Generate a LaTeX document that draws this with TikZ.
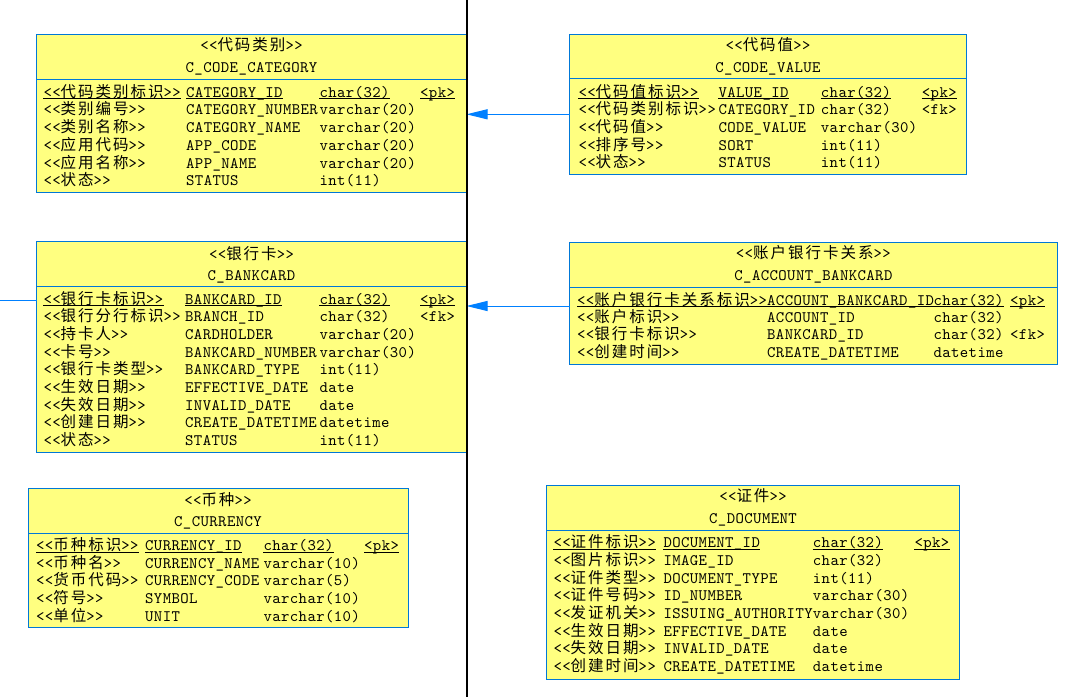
\documentclass[tikz,border=0pt]{standalone}
\usepackage{fontspec}
\usetikzlibrary{arrows.meta}
\newfontfamily\cjk[LetterSpace=12.9]{Noto Sans CJK SC}
\newfontfamily\mono[LetterSpace=2.5]{lmmono10-regular.otf}
\definecolor{erfill}{RGB}{255,255,128}
\definecolor{erline}{RGB}{0,120,215}
\definecolor{connc}{RGB}{0,128,255}
\newcommand\zh[1]{{\cjk\fontsize{15.5}{15.5}\selectfont #1}}
\newcommand\lab[1]{<<\zh{#1}>>}
\newcount\rc
\newcommand\cols[4]{\def\ca{#1}\def\cb{#2}\def\cc{#3}\def\cd{#4}}
\newcommand\rw[5]{%
  \global\advance\rc by 1
  \node[txt] (r\the\rc a) at (\ca,#1+5) {\lab{#2}};
  \node[txt] (r\the\rc b) at (\cb,#1+5) {#3};
  \node[txt] (r\the\rc c) at (\cc,#1+5) {#4};
  \node[txt] (r\the\rc d) at (\cd,#1+5) {#5};
}
\newcommand\rwu[5]{%
  \rw{#1}{#2}{#3}{#4}{#5}%
  \edef\nm{r\the\rc}%
  \foreach \k in {a,b,c,d}{\draw[ul] ([yshift=-1.8pt]\nm\k.base west) -- ([yshift=-1.8pt]\nm\k.base east);}
}
\begin{document}
\begin{tikzpicture}[x=1pt,y=-1pt,
  tbl/.style={draw=erline, fill=erfill, line width=1pt, inner sep=0pt, outer sep=0pt, anchor=north west},
  txt/.style={anchor=base west, inner sep=0pt, font=\mono\fontsize{16}{16}\selectfont},
  ttl/.style={anchor=base, inner sep=0pt, font=\mono\fontsize{16}{16}\selectfont},
  sepl/.style={draw=erline, line width=1pt},
  conn/.style={draw=connc, line width=1pt, -{Triangle[length=21pt,width=10pt]}},
  connl/.style={draw=connc, line width=1pt},
  ul/.style={draw=black, line width=0.8pt}]
\useasboundingbox (0,0) rectangle (1087,697);
\fill[white] (0,0) rectangle (1087,697);

% tables
\node[tbl, minimum width=430pt, minimum height=157.5pt] (t1) at (36.5,34.5) {};
\node[tbl, minimum width=397pt, minimum height=139.5pt] (t2) at (569.5,34.5) {};
\node[tbl, minimum width=430pt, minimum height=210.3pt] (t3) at (36.5,241.7) {};
\node[tbl, minimum width=487.8pt, minimum height=121.7pt] (t4) at (569.5,242.3) {};
\node[tbl, minimum width=380pt, minimum height=139.4pt] (t5) at (28,488.3) {};
\node[tbl, minimum width=412.6pt, minimum height=193.7pt] (t6) at (546.7,485.3) {};

\draw[sepl] (t1.west |- 0,79.3) -- (t1.east |- 0,79.3);
\draw[sepl] (t2.west |- 0,78.7) -- (t2.east |- 0,78.7);
\draw[sepl] (t3.west |- 0,286.7) -- (t3.east |- 0,286.7);
\draw[sepl] (t4.west |- 0,287.3) -- (t4.east |- 0,287.3);
\draw[sepl] (t5.west |- 0,533.3) -- (t5.east |- 0,533.3);
\draw[sepl] (t6.west |- 0,530.7) -- (t6.east |- 0,530.7);

% titles
\node[ttl] (h1a) at (t1.north |- 0,50.5) {\lab{代码类别}};
\node[ttl] (h1b) at (t1.north |- 0,72.3) {C\_CODE\_CATEGORY};
\node[ttl] (h2a) at (t2.north |- 0,50.5) {\lab{代码值}};
\node[ttl] (h2b) at (t2.north |- 0,72) {C\_CODE\_VALUE};
\node[ttl] (h3a) at (t3.north |- 0,259.5) {\lab{银行卡}};
\node[ttl] (h3b) at (t3.north |- 0,280.7) {C\_BANKCARD};
\node[ttl] (h4a) at (t4.north |- 0,258.5) {\lab{账户银行卡关系}};
\node[ttl] (h4b) at (t4.north |- 0,280) {C\_ACCOUNT\_BANKCARD};
\node[ttl] (h5a) at (t5.north |- 0,505.5) {\lab{币种}};
\node[ttl] (h5b) at (t5.north |- 0,526.7) {C\_CURRENCY};
\node[ttl] (h6a) at (t6.north |- 0,501.5) {\lab{证件}};
\node[ttl] (h6b) at (t6.north |- 0,523.7) {C\_DOCUMENT};

% C_CODE_CATEGORY
\cols{43.3}{186}{319.3}{420}
\rwu{92}{代码类别标识}{CATEGORY\_ID}{char(32)}{<pk>}
\rw{109.7}{类别编号}{CATEGORY\_NUMBER}{varchar(20)}{}
\rw{127.5}{类别名称}{CATEGORY\_NAME}{varchar(20)}{}
\rw{145.2}{应用代码}{APP\_CODE}{varchar(20)}{}
\rw{163}{应用名称}{APP\_NAME}{varchar(20)}{}
\rw{180.7}{状态}{STATUS}{int(11)}{}

% C_CODE_VALUE
\cols{578.3}{718.3}{820.7}{921.7}
\rwu{92}{代码值标识}{VALUE\_ID}{char(32)}{<pk>}
\rw{109.5}{代码类别标识}{CATEGORY\_ID}{char(32)}{<fk>}
\rw{127.3}{代码值}{CODE\_VALUE}{varchar(30)}{}
\rw{145}{排序号}{SORT}{int(11)}{}
\rw{162.7}{状态}{STATUS}{int(11)}{}

% C_BANKCARD
\cols{43.3}{185}{319.3}{420}
\rwu{299}{银行卡标识}{BANKCARD\_ID}{char(32)}{<pk>}
\rw{316.7}{银行分行标识}{BRANCH\_ID}{char(32)}{<fk>}
\rw{334.4}{持卡人}{CARDHOLDER}{varchar(20)}{}
\rw{352.1}{卡号}{BANKCARD\_NUMBER}{varchar(30)}{}
\rw{369.8}{银行卡类型}{BANKCARD\_TYPE}{int(11)}{}
\rw{387.5}{生效日期}{EFFECTIVE\_DATE}{date}{}
\rw{405.2}{失效日期}{INVALID\_DATE}{date}{}
\rw{422.9}{创建日期}{CREATE\_DATETIME}{datetime}{}
\rw{440.6}{状态}{STATUS}{int(11)}{}

% C_ACCOUNT_BANKCARD
\cols{577}{767}{933.3}{1010}
\rwu{300}{账户银行卡关系标识}{ACCOUNT\_BANKCARD\_ID}{char(32)}{<pk>}
\rw{317}{账户标识}{ACCOUNT\_ID}{char(32)}{}
\rw{334.5}{银行卡标识}{BANKCARD\_ID}{char(32)}{<fk>}
\rw{352.3}{创建时间}{CREATE\_DATETIME}{datetime}{}

% C_CURRENCY
\cols{36}{145}{263.3}{364}
\rwu{545.7}{币种标识}{CURRENCY\_ID}{char(32)}{<pk>}
\rw{563.3}{币种名}{CURRENCY\_NAME}{varchar(10)}{}
\rw{580.8}{货币代码}{CURRENCY\_CODE}{varchar(5)}{}
\rw{598.4}{符号}{SYMBOL}{varchar(10)}{}
\rw{616}{单位}{UNIT}{varchar(10)}{}

% C_DOCUMENT
\cols{553.3}{663.3}{812.7}{914.3}
\rwu{542.7}{证件标识}{DOCUMENT\_ID}{char(32)}{<pk>}
\rw{560.4}{图片标识}{IMAGE\_ID}{char(32)}{}
\rw{578.1}{证件类型}{DOCUMENT\_TYPE}{int(11)}{}
\rw{595.8}{证件号码}{ID\_NUMBER}{varchar(30)}{}
\rw{613.5}{发证机关}{ISSUING\_AUTHORITY}{varchar(30)}{}
\rw{631.2}{生效日期}{EFFECTIVE\_DATE}{date}{}
\rw{648.9}{失效日期}{INVALID\_DATE}{date}{}
\rw{666.6}{创建时间}{CREATE\_DATETIME}{datetime}{}

% connectors
\draw[conn] (t2.west |- 0,114.3) -- (t1.east |- 0,114.3);
\draw[conn] (t4.west |- 0,306) -- (t3.east |- 0,306);
\coordinate (lft) at (0,300.3);
\draw[connl] (lft) -- (t3.west |- lft);
\coordinate (vt) at (467,0);
\coordinate (vb) at (467,697);
\draw[black, line width=1.3pt] (vt) -- (vb);
\end{tikzpicture}
\end{document}
